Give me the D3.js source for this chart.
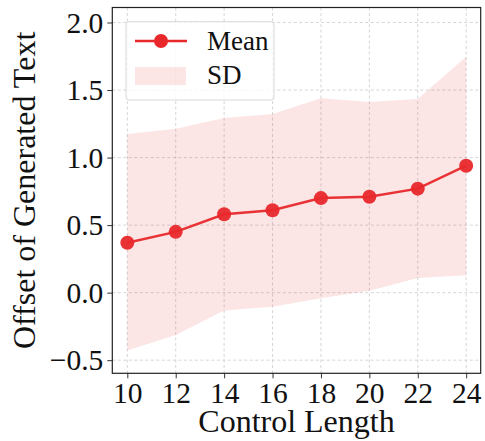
<!DOCTYPE html>
<html><head><meta charset="utf-8">
<script src="https://cdn.jsdelivr.net/npm/d3@7"></script>
<style>body{margin:0;background:#fff}svg{display:block}</style>
</head><body><svg id="c" width="485" height="441"></svg>
<script>
const lengths = [10, 12, 14, 16, 18, 20, 22, 24];
const meanValues = [0.37, 0.45, 0.58, 0.61, 0.70, 0.71, 0.77, 0.94];
const sdUpper = [1.174, 1.214, 1.293, 1.323, 1.439, 1.412, 1.434, 1.747];
const sdLower = [-0.429, -0.313, -0.133, -0.104, -0.042, 0.015, 0.109, 0.129];
const yTicks = [-0.5, 0.0, 0.5, 1.0, 1.5, 2.0];
const xTicks = [10, 12, 14, 16, 18, 20, 22, 24];

const svg = d3.select("#c");
const L = 112.3, R = 480.7, T = 7.5, B = 373.3;
const x = d3.scaleLinear().domain([9.38, 24.6]).range([L, R]);
const y = d3.scaleLinear().domain([-0.597, 2.111]).range([B, T]);
const font = "'Liberation Serif','Times New Roman',serif";
const red = "#e8282b";

// grid
const g = svg.append("g");
g.selectAll(".gx").data(xTicks).enter().append("line")
  .attr("x1", d => x(d)).attr("x2", d => x(d)).attr("y1", T).attr("y2", B)
  .attr("stroke", "#cccccc").attr("stroke-width", 0.8).attr("stroke-dasharray", "3,2.5");
g.selectAll(".gy").data(yTicks).enter().append("line")
  .attr("y1", d => y(d)).attr("y2", d => y(d)).attr("x1", L).attr("x2", R)
  .attr("stroke", "#cccccc").attr("stroke-width", 0.8).attr("stroke-dasharray", "3,2.5");

// SD band
const data = lengths.map((l, i) => ({l, m: meanValues[i], u: sdUpper[i], lo: sdLower[i]}));
svg.append("path").datum(data)
  .attr("d", d3.area().x(d => x(d.l)).y0(d => y(d.lo)).y1(d => y(d.u)))
  .attr("fill", red).attr("fill-opacity", 0.12);

// mean line
svg.append("path").datum(data)
  .attr("d", d3.line().x(d => x(d.l)).y(d => y(d.m)))
  .attr("fill", "none").attr("stroke", red).attr("stroke-width", 2.5).attr("stroke-opacity", 0.95);
svg.selectAll(".pt").data(data).enter().append("circle")
  .attr("cx", d => x(d.l)).attr("cy", d => y(d.m)).attr("r", 7)
  .attr("fill", red).attr("fill-opacity", 0.95);

// axes
const xa = svg.append("g").attr("transform", `translate(0,${B})`)
  .call(d3.axisBottom(x).tickValues(xTicks).tickSize(5).tickPadding(6).tickFormat(d3.format("d")));
const ya = svg.append("g").attr("transform", `translate(${L},0)`)
  .call(d3.axisLeft(y).tickValues(yTicks).tickSize(5).tickPadding(4)
    .tickFormat(d => d < 0 ? "\u2212" + Math.abs(d).toFixed(1) : d.toFixed(1)));
[xa, ya].forEach(a => {
  a.select(".domain").remove();
  a.selectAll("line").attr("stroke", "#333").attr("stroke-width", 1);
  a.selectAll("text").attr("font-family", font).attr("font-size", 29.5).attr("fill", "#111");
});
xa.selectAll("text").attr("dy", "0.62em");
ya.selectAll("text").attr("dy", "0.33em");

svg.append("rect").attr("x", L).attr("y", T).attr("width", R - L).attr("height", B - T)
  .attr("fill", "none").attr("stroke", "#222").attr("stroke-width", 1.2);

// labels
svg.append("text").attr("x", (L + R) / 2).attr("y", 432).attr("text-anchor", "middle")
  .attr("font-family", font).attr("font-size", 32).attr("fill", "#111").text("Control Length");
svg.append("text").attr("transform", `translate(35,${(T + B) / 2}) rotate(-90)`)
  .attr("text-anchor", "middle").attr("font-family", font).attr("font-size", 32).attr("fill", "#111")
  .text("Offset of Generated Text");

// legend
const lg = svg.append("g");
lg.append("rect").attr("x", 126).attr("y", 21.7).attr("width", 148).attr("height", 78.3).attr("rx", 3)
  .attr("fill", "#fff").attr("fill-opacity", 0.8).attr("stroke", "#d8d8d8").attr("stroke-width", 1);
lg.append("line").attr("x1", 135).attr("x2", 187).attr("y1", 41).attr("y2", 41)
  .attr("stroke", red).attr("stroke-width", 2.5);
lg.append("circle").attr("cx", 161).attr("cy", 41).attr("r", 7).attr("fill", red);
lg.append("rect").attr("x", 135).attr("y", 67).attr("width", 51).attr("height", 18)
  .attr("fill", red).attr("fill-opacity", 0.12);
lg.append("text").attr("x", 207).attr("y", 50).attr("font-family", font).attr("font-size", 27)
  .attr("fill", "#111").text("Mean");
lg.append("text").attr("x", 207).attr("y", 84).attr("font-family", font).attr("font-size", 27)
  .attr("fill", "#111").text("SD");
</script></body></html>
